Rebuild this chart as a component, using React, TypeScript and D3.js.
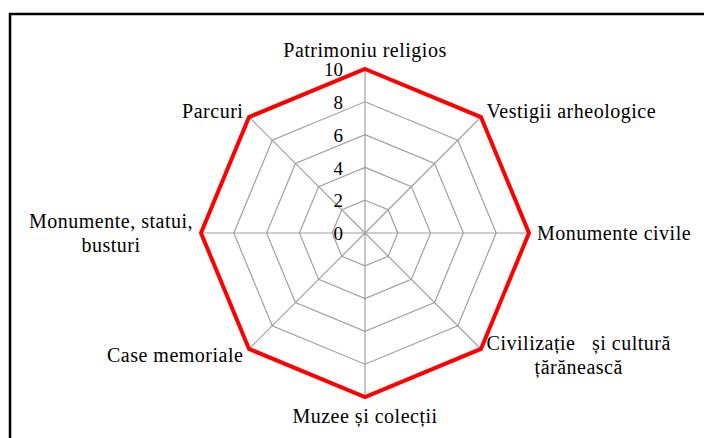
import React, { useEffect, useRef } from 'react';
import * as d3 from 'd3';

// categories (each label may wrap on two lines)
const categories = [
  ['Patrimoniu religios'],
  ['Vestigii arheologice'],
  ['Monumente civile'],
  ['Civilizație   și cultură', 'țărănească'],
  ['Muzee și colecții'],
  ['Case memoriale'],
  ['Monumente, statui,', 'busturi'],
  ['Parcuri'],
];
const values = [10, 10, 10, 10, 10, 10, 10, 10];
const tickValues = [0, 2, 4, 6, 8, 10];

const App = () => {
  const ref = useRef<SVGSVGElement | null>(null);

  useEffect(() => {
    const svg = d3.select(ref.current);
    svg.selectAll('*').remove();

    const width = 704;
    const height = 438;
    const cx = 365;
    const cy = 233;
    const radius = 164;
    const font = "'Liberation Serif', 'Times New Roman', serif";

    // chart frame
    svg.append('rect')
      .attr('x', 10).attr('y', 14)
      .attr('width', width + 20).attr('height', height + 20)
      .attr('fill', '#fff')
      .attr('stroke', '#000')
      .attr('stroke-width', 2.5);

    const n = categories.length;
    const angle = d3.scaleLinear().domain([0, n]).range([0, 2 * Math.PI]);
    const r = d3.scaleLinear().domain([0, 10]).range([0, radius]);

    const g = svg.append('g').attr('transform', `translate(${cx},${cy})`);

    // grid polygons
    const ring = (v: number) =>
      d3.range(n).map(i => [r(v) * Math.sin(angle(i)), -r(v) * Math.cos(angle(i))] as [number, number]);

    g.selectAll('.grid')
      .data(tickValues.filter(t => t > 0))
      .enter().append('polygon')
      .attr('points', d => ring(d).map(p => p.join(',')).join(' '))
      .attr('fill', 'none')
      .attr('stroke', '#a0a0a0')
      .attr('stroke-width', 1.2);

    // spokes
    g.selectAll('.spoke')
      .data(d3.range(n))
      .enter().append('line')
      .attr('x1', 0).attr('y1', 0)
      .attr('x2', i => r(10) * Math.sin(angle(i)))
      .attr('y2', i => -r(10) * Math.cos(angle(i)))
      .attr('stroke', '#a0a0a0')
      .attr('stroke-width', 1.2);

    // data line
    const line = d3.lineRadial<number>()
      .angle((d, i) => angle(i))
      .radius(d => r(d))
      .curve(d3.curveLinearClosed);

    g.append('path')
      .attr('d', line(values))
      .attr('fill', 'none')
      .attr('stroke', '#ff0000')
      .attr('stroke-width', 4)
      .attr('stroke-linejoin', 'miter');

    // tick labels
    g.selectAll('.tick')
      .data(tickValues)
      .enter().append('text')
      .attr('x', -22)
      .attr('y', d => -r(d))
      .attr('dy', '0.38em')
      .attr('text-anchor', 'end')
      .attr('font-family', font)
      .attr('font-size', 19)
      .attr('fill', '#000')
      .text(d => d);

    // category labels
    const lineH = 24;
    categories.forEach((lines, i) => {
      const a = angle(i);
      const s = Math.sin(a);
      const c = Math.cos(a);
      const lab = g.append('g');
      const t = lab.append('text')
        .attr('text-anchor', 'middle')
        .attr('font-family', font)
        .attr('font-size', 20)
        .attr('letter-spacing', 0.5)
        .attr('fill', '#000')
        .attr('xml:space', 'preserve')
        .style('white-space', 'pre');
      lines.forEach((ln, k) => {
        t.append('tspan')
          .attr('x', 0)
          .attr('y', (k - (lines.length - 1) / 2) * lineH)
          .attr('dy', '0.35em')
          .text(ln);
      });
      const box = (t.node() as SVGTextElement).getBBox();
      const w = box.width;
      const h = lines.length * lineH - 4;
      let x = (radius + 8) * s;
      let y = -(radius + 9) * c;
      if (Math.abs(s) > 0.1) x += Math.sign(s) * w / 2;
      if (Math.abs(s) < 0.1) y += -Math.sign(c) * h / 2;
      lab.attr('transform', `translate(${x},${y})`);
    });
  }, []);

  return (
    <svg
      ref={ref}
      width={704}
      height={438}
      style={{ position: 'absolute', left: 0, top: 0, background: '#fff' }}
    />
  );
};

export default App;
